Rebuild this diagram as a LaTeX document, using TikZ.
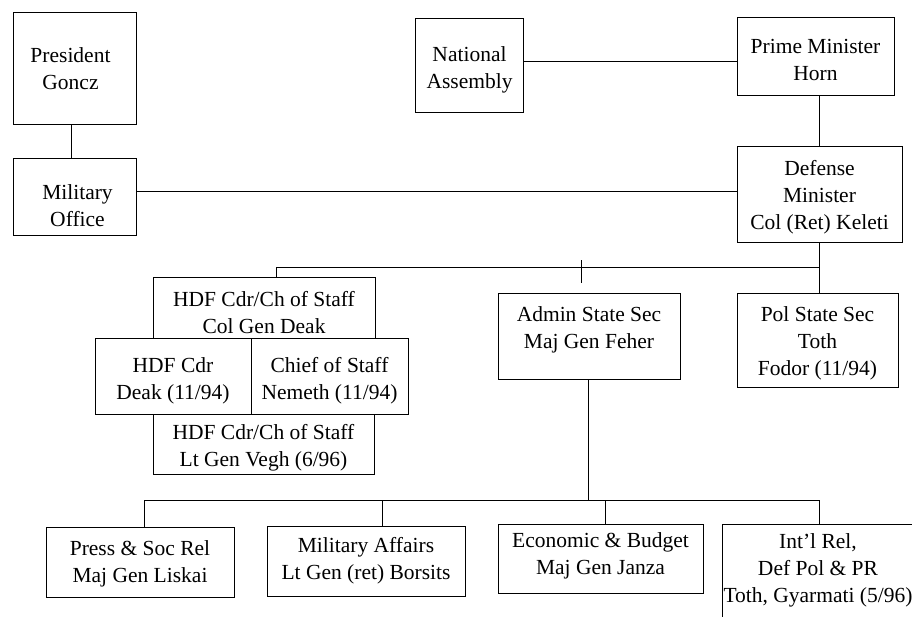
\documentclass[tikz,border=0pt]{standalone}
\usepackage{fontspec}
\setmainfont{Liberation Serif}
\begin{document}
\begin{tikzpicture}[x=1pt,y=-1pt,
  box/.style={draw, line width=0.8pt, inner sep=0pt, anchor=center},
  lab/.style={align=center, inner sep=0pt},
  conn/.style={line width=0.8pt},
  every node/.style={font=\fontsize{21.5pt}{27pt}\selectfont}]
\useasboundingbox[fill=white] (0,0) rectangle (912,616);
% top
\node[box, minimum width=123pt, minimum height=112pt,
  label={[lab, xshift=-4pt, yshift=-1pt]center:{President\\Goncz}}] (pres) at (74.5,68) {};
\node[box, minimum width=123pt, minimum height=77pt,
  label={[lab, xshift=3pt, yshift=-9pt]center:{Military\\Office}}] (mil) at (74.5,196.5) {};
\node[box, minimum width=108pt, minimum height=94pt,
  label={[lab, yshift=-5pt]center:{National\\Assembly}}] (na) at (469.5,65) {};
\node[box, minimum width=157pt, minimum height=78pt,
  label={[lab, yshift=-4pt]center:{Prime Minister\\Horn}}] (pm) at (815.5,56) {};
\node[box, minimum width=165pt, minimum height=96pt,
  label={[lab, yshift=-3pt]center:{Defense\\Minister\\Col (Ret) Keleti}}] (dm) at (819.5,194) {};
% HDF cluster
\node[box, minimum width=222pt, minimum height=61pt,
  label={[lab, yshift=-5pt]center:{HDF Cdr/Ch of Staff\\Col Gen Deak}}] (hdfa) at (264,307.5) {};
\node[box, minimum width=156pt, minimum height=76pt,
  label={[lab, yshift=-5pt]center:{HDF Cdr\\Deak (11/94)}}] (hdfl) at (173,376) {};
\node[box, minimum width=157pt, minimum height=76pt,
  label={[lab, yshift=-5pt]center:{Chief of Staff\\Nemeth (11/94)}}] (hdfr) at (329.5,376) {};
\node[box, minimum width=221pt, minimum height=60pt,
  label={[lab, yshift=-4pt]center:{HDF Cdr/Ch of Staff\\Lt Gen Vegh (6/96)}}] (hdfb) at (263.5,444) {};
% state secretaries
\node[box, minimum width=182pt, minimum height=86pt,
  label={[lab, yshift=6pt]center:{Admin State Sec\\Maj Gen Feher}}] (admin) at (589,336) {};
\node[box, minimum width=161pt, minimum height=94pt,
  label={[lab, yshift=-3pt]center:{Pol State Sec\\Toth\\Fodor (11/94)}}] (pss) at (817.5,340) {};
% bottom row
\node[box, minimum width=188pt, minimum height=70pt,
  label={[lab, yshift=-2pt]center:{Press \& Soc Rel\\Maj Gen Liskai}}] (press) at (140,562) {};
\node[box, minimum width=198pt, minimum height=70pt,
  label={[lab]center:{Military Affairs\\Lt Gen (ret) Borsits}}] (milaff) at (366,561) {};
\node[box, minimum width=205pt, minimum height=69pt,
  label={[lab, yshift=3pt]center:{Economic \& Budget\\Maj Gen Janza}}] (econ) at (600.5,558.5) {};
\node[box, minimum width=194pt, minimum height=116pt,
  label={[lab, xshift=-1pt, yshift=12pt]center:{Int'l Rel,\\Def Pol \& PR\\Toth, Gyarmati (5/96)}}] (intl) at (819,582) {};
% junction coordinates
\coordinate (bl) at (276,267);
\coordinate (tick) at (581,260);
\coordinate (bbar) at (144,500);
\coordinate (mabar) at (382,500);
\coordinate (ecbar) at (605,500);
% connectors
\draw[conn] ([xshift=-3.5pt]pres.south) -- ([xshift=-3.5pt]mil.north);
\draw[conn] ([yshift=4pt]na.east) -- ([yshift=4pt]na.east -| pm.west);
\draw[conn] ([yshift=5.5pt]mil.east) -- ([yshift=5.5pt]mil.east -| dm.west);
\draw[conn] (pm.south -| dm.north) -- (dm.north);
\draw[conn] (dm.south) -- (dm.south |- pss.north);
\draw[conn] (bl) -- (bl -| dm.south);
\draw[conn] (bl) -- (bl |- hdfa.north);
\draw[conn] (tick) -- ++(0,23);
\draw[conn] ([xshift=-1pt]admin.south) -- ([xshift=-1pt]admin.south |- bbar);
\draw[conn] (bbar) -- (bbar -| intl.north);
\draw[conn] (bbar) -- (bbar |- press.north);
\draw[conn] (mabar) -- (mabar |- milaff.north);
\draw[conn] (ecbar) -- (ecbar |- econ.north);
\draw[conn] (bbar -| intl.north) -- (intl.north);
\end{tikzpicture}
\end{document}
